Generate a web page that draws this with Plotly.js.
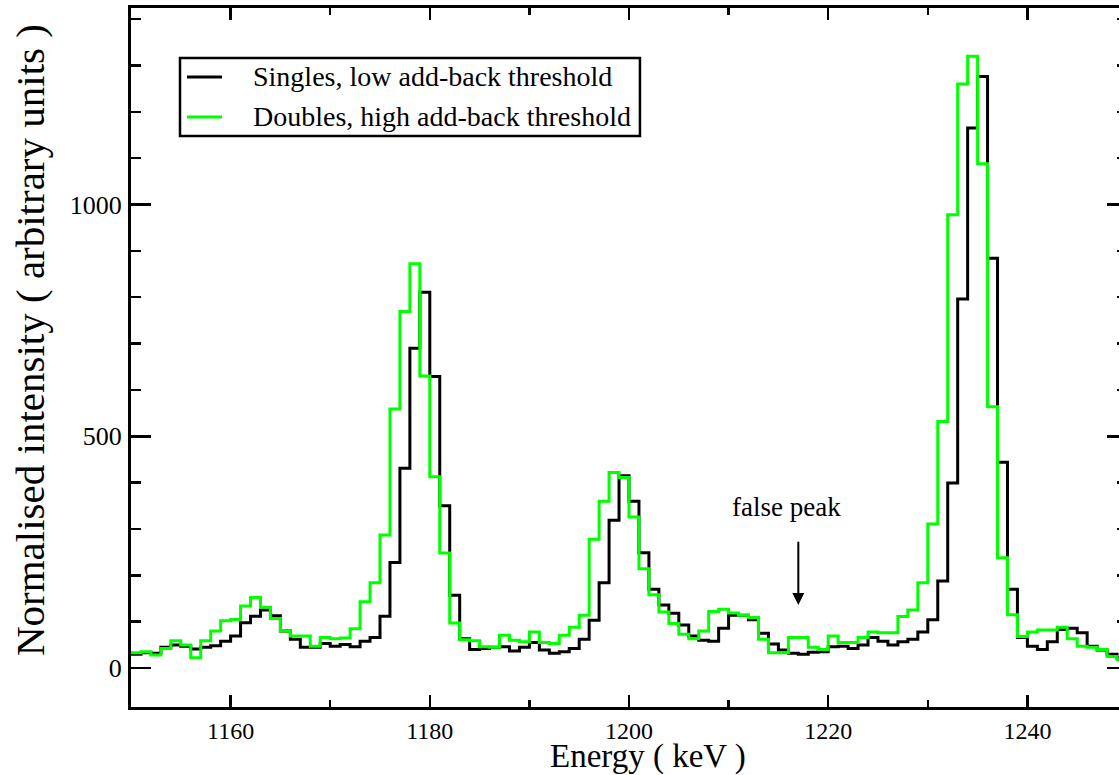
<!DOCTYPE html>
<html>
<head>
<meta charset="utf-8">
<script src="https://cdn.plot.ly/plotly-3.0.1.min.js"></script>
<style>
  html, body { margin: 0; padding: 0; overflow: hidden; background: #ffffff; }
  #chart { width: 1127px; height: 775px; }
</style>
</head>
<body>
<div id="chart"></div>
<script>
// Spectrum binning (keV): 1 keV bins starting at 1150 keV
const binStart = 1150;
const binWidth = 1;

// Counts per bin, singles spectrum with low add-back threshold
const singlesCounts = [
  30, 33, 32, 45, 50, 47, 41, 45, 48, 58,
  69, 98, 112, 125, 113, 80, 62, 45, 45, 53,
  47, 51, 46, 58, 66, 112, 228, 431, 690, 811,
  629, 350, 157, 63, 40, 42, 45, 46, 37, 45,
  55, 39, 32, 35, 42, 62, 103, 184, 319, 415,
  360, 249, 170, 136, 118, 93, 69, 60, 58, 86,
  114, 114, 104, 75, 52, 39, 32, 30, 34, 35,
  46, 47, 42, 50, 66, 58, 50, 57, 62, 78,
  104, 188, 399, 796, 1165, 1276, 884, 444, 170, 66,
  47, 40, 57, 83, 86, 76, 47, 39, 30, 22
];

// Counts per bin, doubles spectrum with high add-back threshold
const doublesCounts = [
  33, 35, 28, 42, 59, 50, 22, 59, 80, 102,
  105, 134, 152, 131, 107, 80, 69, 69, 47, 66,
  63, 65, 85, 143, 184, 287, 559, 769, 872, 630,
  413, 248, 97, 61, 59, 46, 45, 71, 60, 57,
  78, 55, 53, 71, 88, 114, 278, 360, 422, 411,
  326, 214, 158, 121, 96, 73, 63, 80, 122, 127,
  119, 114, 109, 62, 33, 33, 66, 66, 45, 40,
  69, 55, 55, 66, 78, 76, 76, 111, 125, 184,
  311, 532, 978, 1260, 1320, 1088, 564, 238, 115, 68,
  78, 82, 82, 88, 63, 47, 45, 40, 25, 18
];

const seriesNames = ['Singles, low add-back threshold', 'Doubles, high add-back threshold'];
const seriesColors = ['#000000', '#00ff00'];

const xTitle = 'Energy ( keV )';
const yTitle = 'Normalised intensity ( arbitrary units )';

// Marker for the spurious peak
const falsePeakLabel = 'false peak';
const falsePeakEnergy = 1217.0;
const falsePeakArrowTip = 136;
const falsePeakArrowTail = 276;
const falsePeakLabelLevel = 347;

const serif = "'Liberation Serif', 'Times New Roman', Times, serif";

// Turn bin contents into step-histogram coordinates (left edges + closing edge)
function stepTrace(counts, name, color) {
  const x = counts.map((_, i) => binStart + i * binWidth);
  const y = counts.slice();
  x.push(binStart + counts.length * binWidth);
  y.push(counts[counts.length - 1]);
  return {
    x: x, y: y, name: name, type: 'scatter', mode: 'lines',
    line: { shape: 'hv', color: color, width: 3 },
    hoverinfo: 'x+y', showlegend: false
  };
}

const traces = [
  stepTrace(singlesCounts, seriesNames[0], seriesColors[0]),
  stepTrace(doublesCounts, seriesNames[1], seriesColors[1])
];

// Legend box drawn in paper coordinates: frame, line samples and entry texts
const legendBox = { x0: 0.0492, x1: 0.511, y0: 0.8169, y1: 0.9285 };
const legendRows = [0.9013, 0.8441];
const legendSample = { x0: 0.0562, x1: 0.0914 };
const legendTextX = 0.1205;

const shapes = [
  {
    type: 'rect', xref: 'paper', yref: 'paper',
    x0: legendBox.x0, x1: legendBox.x1, y0: legendBox.y0, y1: legendBox.y1,
    line: { color: '#000000', width: 2.5 }, fillcolor: '#ffffff', layer: 'above'
  }
];
const legendTexts = [];
seriesNames.forEach((name, i) => {
  shapes.push({
    type: 'line', xref: 'paper', yref: 'paper',
    x0: legendSample.x0, x1: legendSample.x1, y0: legendRows[i], y1: legendRows[i],
    line: { color: seriesColors[i], width: 3 }, layer: 'above'
  });
  legendTexts.push({
    x: legendTextX, y: legendRows[i], xref: 'paper', yref: 'paper',
    text: name, showarrow: false, xanchor: 'left', yanchor: 'middle',
    font: { family: serif, size: 28, color: '#000000' }
  });
});

const layout = {
  width: 1127, height: 775,
  margin: { l: 131, r: 0, t: 8, b: 68 },
  paper_bgcolor: '#ffffff', plot_bgcolor: '#ffffff',
  font: { family: serif, color: '#000000', size: 26 },
  showlegend: false,
  xaxis: {
    range: [1150, 1250], autorange: false,
    tick0: 1160, dtick: 20,
    ticks: 'inside', ticklen: 12, tickwidth: 2.5, tickcolor: '#000000',
    minor: { dtick: 10, tick0: 1150, ticks: 'inside', ticklen: 7, tickwidth: 2.5, tickcolor: '#000000' },
    showline: true, linewidth: 3, linecolor: '#000000', mirror: 'allticks',
    showgrid: false, zeroline: false,
    tickfont: { family: serif, size: 24, color: '#000000' },
    ticklabelstandoff: 0
  },
  yaxis: {
    range: [-84, 1424], autorange: false,
    tick0: 0, dtick: 500,
    ticks: 'inside', ticklen: 20, tickwidth: 2.5, tickcolor: '#000000',
    minor: { dtick: 100, tick0: 0, ticks: 'inside', ticklen: 10, tickwidth: 2.5, tickcolor: '#000000' },
    showline: true, linewidth: 3, linecolor: '#000000', mirror: 'allticks',
    showgrid: false, zeroline: false,
    tickfont: { family: serif, size: 26, color: '#000000' },
    ticklabelstandoff: 1
  },
  shapes: shapes,
  annotations: [
    {
      x: falsePeakEnergy, y: falsePeakArrowTip, xref: 'x', yref: 'y',
      ax: falsePeakEnergy, ay: falsePeakArrowTail, axref: 'x', ayref: 'y',
      text: '', showarrow: true, arrowhead: 2, arrowsize: 1.2, arrowwidth: 2, arrowcolor: '#000000'
    },
    {
      x: falsePeakEnergy - 1.2, y: falsePeakLabelLevel, xref: 'x', yref: 'y',
      text: falsePeakLabel, showarrow: false,
      font: { family: serif, size: 27, color: '#000000' },
      xanchor: 'center', yanchor: 'middle'
    },
    {
      x: 0.519, y: -0.0715, xref: 'paper', yref: 'paper',
      text: xTitle, showarrow: false,
      font: { family: serif, size: 33, color: '#000000' },
      xanchor: 'center', yanchor: 'middle'
    },
    {
      x: -0.1014, y: 0.525, xref: 'paper', yref: 'paper',
      text: yTitle, showarrow: false, textangle: -90,
      font: { family: serif, size: 41, color: '#000000' },
      xanchor: 'center', yanchor: 'middle'
    }
  ].concat(legendTexts)
};

Plotly.newPlot('chart', traces, layout, { displayModeBar: false, staticPlot: true });
</script>
</body>
</html>
